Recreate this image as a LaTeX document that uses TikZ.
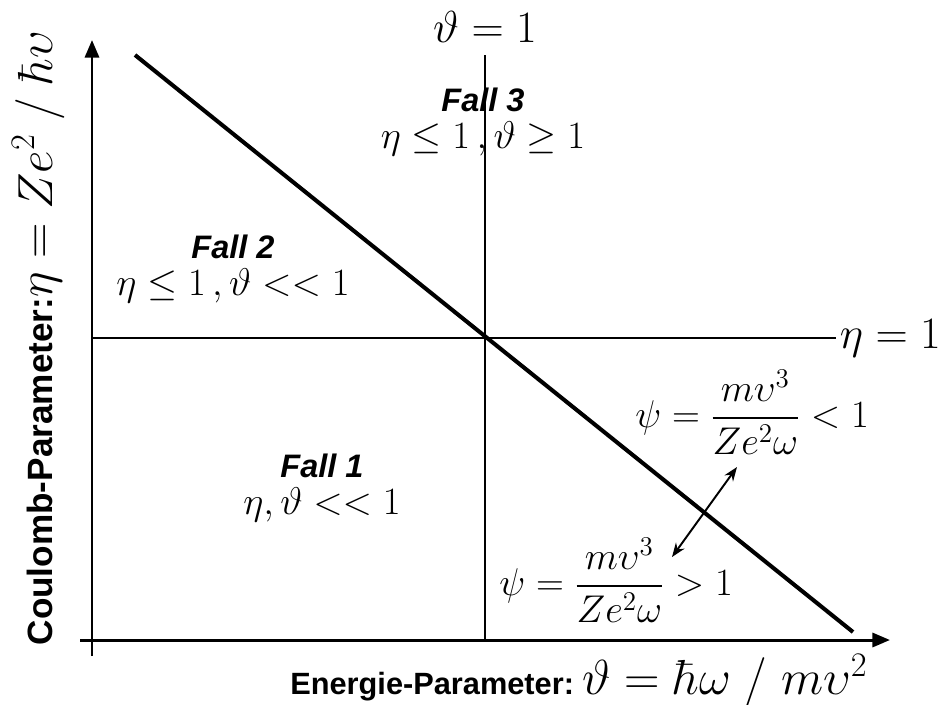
\documentclass[tikz,border=0pt]{standalone}
\usepackage{fix-cm}
\usepackage{amsmath}
\usepackage{fontspec}
\setsansfont{Liberation Sans}
\usetikzlibrary{arrows.meta,positioning}

\begin{document}
\begin{tikzpicture}[
  x=0.02cm,y=-0.02cm,
  axis/.style={line width=1.7pt,-{Triangle[length=10pt,width=8pt]}},
  guide/.style={line width=0.6pt},
  formel/.style={font=\fontsize{22}{26}\selectfont,inner sep=1pt},
  grenze/.style={font=\fontsize{25.5}{30}\selectfont,inner sep=1pt},
  fall/.style={font=\fontsize{18.5}{22}\selectfont\sffamily\bfseries\itshape,inner sep=1pt},
  achse/.style={font=\fontsize{17.5}{21}\selectfont\sffamily\bfseries}
]
  \useasboundingbox (0,0) rectangle (943,704);

  % axes
  \coordinate (xstart) at (80,640);
  \coordinate (xtip) at (890,640);
  \coordinate (ystart) at (92,656);
  \coordinate (ytip) at (92,40);
  \draw[axis] (xstart) -- (xtip);
  \draw[axis] (ystart) -- (ytip);

  % guide lines eta=1 and theta=1
  \coordinate (etaleft) at (92,338);
  \coordinate (etaright) at (836,338);
  \coordinate (thetatop) at (485,55);
  \coordinate (thetabot) at (485,640);
  \draw[guide] (etaleft) -- (etaright);
  \draw[guide] (thetatop) -- (thetabot);
  \node[grenze,right=1pt of etaright] (etaeins) {$\eta = 1$};
  \node[grenze,above=6pt of thetatop] (thetaeins) {$\vartheta = 1$};

  % psi = 1 line
  \coordinate (diagtop) at (135,55);
  \coordinate (diagbot) at (853,632);
  \draw[line width=2.3pt] (diagtop) -- (diagbot);

  % cases
  \node[fall] (fall3) at (483,100) {Fall 3};
  \node[formel,below=3pt of fall3] (bed3) {$\eta \le 1\,,\vartheta \ge 1$};
  \node[fall] (fall2) at (233,247) {Fall 2};
  \node[formel,below=3pt of fall2] (bed2) {$\eta \le 1\,,\vartheta << 1$};
  \node[fall] (fall1) at (322,466) {Fall 1};
  \node[formel,below=3pt of fall1] (bed1) {$\eta, \vartheta << 1$};

  % psi regions
  \node[formel] (psiklein) at (752,412) {$\psi = \dfrac{m\upsilon^3}{Ze^2\omega} < 1$};
  \node[formel] (psigross) at (616,580) {$\psi = \dfrac{m\upsilon^3}{Ze^2\omega} > 1$};
  \coordinate (pfeiloben) at (737,467);
  \coordinate (pfeilunten) at (672,557);
  \draw[line width=1.1pt,{Stealth[length=8pt]}-{Stealth[length=8pt]}] (pfeilunten) -- (pfeiloben);

  % axis labels
  \node[achse,anchor=base west,inner sep=0pt] (xlabel) at (290,694)
    {Energie-Parameter:\ \fontsize{28}{32}\selectfont$\vartheta = \hbar\omega \;/\; m\upsilon^2$};
  \node[achse,rotate=90,anchor=base,inner sep=0pt,font=\fontsize{20}{24}\selectfont\sffamily\bfseries] (ylabel) at (52,338)
    {Coulomb-Parameter:\fontsize{28}{32}\selectfont$\eta = Ze^2 \;/\; \hbar\upsilon$};
\end{tikzpicture}
\end{document}
